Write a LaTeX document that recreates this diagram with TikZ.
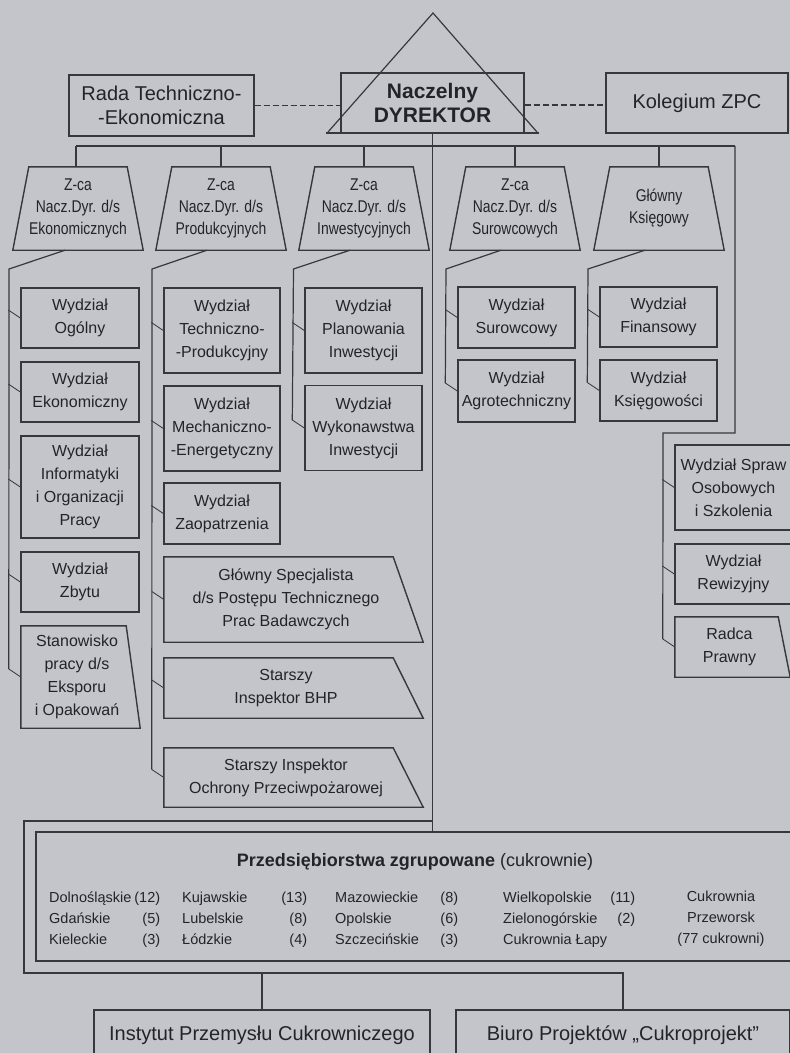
\documentclass[tikz,border=0pt]{standalone}
\usepackage{fontspec}
\setmainfont{Liberation Sans}
\newfontfamily\narrowsans[FakeStretch=0.82]{Liberation Sans}
\usepackage{tikz}
\usetikzlibrary{positioning,calc}
\definecolor{paper}{RGB}{195,197,202}
\definecolor{ink}{RGB}{36,36,40}
\definecolor{wire}{RGB}{56,56,60}
\tikzset{
  box/.style={draw=wire, line width=1.4pt, align=center, inner sep=0pt, text=ink,
    font=\fontsize{16}{23}\selectfont, minimum width=117pt},
  topbox/.style={box, font=\fontsize{20}{24}\selectfont},
  zca/.style={align=center, inner sep=0pt, text=ink, font=\narrowsans\fontsize{17}{22}\selectfont,
    minimum width=98pt, minimum height=83pt},
  slant/.style={align=center, inner sep=0pt, text=ink, font=\fontsize{16}{23}\selectfont},
  outline/.style={draw=wire, line width=1.4pt},
  link/.style={draw=wire, line width=1.2pt},
  tick/.style={draw=wire, line width=0.8pt},
  dashlink/.style={link, dash pattern=on 6pt off 3pt},
  list/.style={inner sep=0pt, text=ink, font=\fontsize{14.5}{21}\selectfont},
}

\begin{document}
\begin{tikzpicture}[x=1pt,y=-1pt]
  \fill[paper] (0,0) rectangle (790,1053);
  \useasboundingbox (0,0) rectangle (790,1053);
  % kierownictwo
  \node[topbox, minimum width=185pt, minimum height=61pt] (rada) at (161.5,105.5) {Rada Techniczno-\\-Ekonomiczna};
  \node[topbox, minimum width=183pt, minimum height=60pt, font=\fontsize{21}{24}\selectfont\bfseries] (dyr) at (432.5,103) {Naczelny\\DYREKTOR};
  \node[topbox, minimum width=182pt, minimum height=60pt] (kol) at (697,103) {Kolegium ZPC};
  \coordinate (apex) at (433,13);
  \draw[link] (328,132) -- (apex) -- (537,132);
  \draw[outline] (326,133) -- (539,133);
  \draw[dashlink] (rada.east) -- (rada.east -| dyr.west);
  \draw[dashlink] ([yshift=-2pt]dyr.east) -- ([yshift=-2pt]dyr.east -| kol.west);
  % zastepcy
  \node[zca] (zeko) at (78,208.5) {Z-ca\\Nacz.Dyr. d/s\\Ekonomicznych};
  \node[zca] (zprod) at (221,208.5) {Z-ca\\Nacz.Dyr. d/s\\Produkcyjnych};
  \node[zca] (zinw) at (364,208.5) {Z-ca\\Nacz.Dyr. d/s\\Inwestycyjnych};
  \node[zca] (zsur) at (515,208.5) {Z-ca\\Nacz.Dyr. d/s\\Surowcowych};
  \node[zca] (ksg) at (659,208.5) {Główny\\Księgowy};
  \foreach \z in {zeko,zprod,zinw,zsur,ksg}
    \draw[outline] (\z.north west) -- (\z.north east) -- ([xshift=16pt]\z.south east)
      -- ([xshift=-16pt]\z.south west) -- cycle;
  % wydzialy
  \node[box, minimum width=118pt, minimum height=60pt] (ogol) at (80,318) {Wydział\\Ogólny};
  \node[box, minimum width=118pt, minimum height=60pt] (ekon) at (80,392) {Wydział\\Ekonomiczny};
  \node[box, minimum width=118pt, minimum height=102pt] (info) at (80,487) {Wydział\\Informatyki\\i Organizacji\\Pracy};
  \node[box, minimum width=118pt, minimum height=60pt] (zbyt) at (80,582) {Wydział\\Zbytu};
  \node[slant, minimum width=112pt, minimum height=102pt] (stan) at (77,677) {Stanowisko\\pracy d/s\\Eksporu\\i Opakowań};
  \node[box, minimum width=116pt, minimum height=85pt] (tech) at (222,330.5) {Wydział\\Techniczno-\\-Produkcyjny};
  \node[box, minimum width=116pt, minimum height=85pt] (mech) at (222,428.5) {Wydział\\Mechaniczno-\\-Energetyczny};
  \node[box, minimum width=116pt, minimum height=61pt] (zaop) at (222,513.5) {Wydział\\Zaopatrzenia};
  \node[slant, minimum width=244pt, minimum height=85pt] (spec) at (286,599.5) {Główny Specjalista\\d/s Postępu Technicznego\\Prac Badawczych};
  \node[slant, minimum width=244pt, minimum height=60pt] (bhp) at (286,688) {Starszy\\Inspektor BHP};
  \node[slant, minimum width=244pt, minimum height=59pt] (ochr) at (286,777.5) {Starszy Inspektor\\Ochrony Przeciwpożarowej};
  \node[box, minimum height=85pt] (plan) at (363.5,330.5) {Wydział\\Planowania\\Inwestycji};
  \node[box, minimum height=85pt] (wyko) at (363.5,428) {Wydział\\Wykonawstwa\\Inwestycji};
  \node[box, minimum height=61pt] (surow) at (516.5,317.5) {Wydział\\Surowcowy};
  \node[box, minimum height=62pt] (agro) at (516.5,391) {Wydział\\Agrotechniczny};
  \node[box, minimum height=60pt] (fin) at (658.5,317) {Wydział\\Finansowy};
  \node[box, minimum height=61pt] (ksieg) at (658.5,390.5) {Wydział\\Księgowości};
  \node[box, minimum height=85pt] (spraw) at (733.5,487.5) {Wydział Spraw\\Osobowych\\i Szkolenia};
  \node[box, minimum height=60pt] (rewiz) at (733.5,574) {Wydział\\Rewizyjny};
  \node[slant, minimum width=109pt, minimum height=60pt] (radca) at (729.5,647) {Radca\\Prawny};
  \foreach \b/\d in {stan/7,spec/15,bhp/15,ochr/15,radca/6}
    \draw[outline] (\b.north west) -- ([xshift=-\d pt]\b.north east)
      -- ([xshift=\d pt]\b.south east) -- (\b.south west) -- cycle;
  % przedsiebiorstwa
  \node[box, minimum width=759pt, minimum height=129pt] (przed) at (415.5,896.5) {};
  \node[inner sep=0pt, text=ink, font=\fontsize{18}{22}\selectfont] (ptyt) at (415,862) {\textbf{Przedsiębiorstwa zgrupowane} (cukrownie)};
  \node[list, anchor=west] (dol) at (49,919) {\begin{tabular*}{111pt}{@{}l@{\extracolsep{\fill}}r@{}}Dolnośląskie&(12)\\Gdańskie&(5)\\Kieleckie&(3)\end{tabular*}};
  \node[list, anchor=west] (kuj) at (182,919) {\begin{tabular*}{125pt}{@{}l@{\extracolsep{\fill}}r@{}}Kujawskie&(13)\\Lubelskie&(8)\\Łódzkie&(4)\end{tabular*}};
  \node[list, anchor=west] (maz) at (335,919) {\begin{tabular*}{123pt}{@{}l@{\extracolsep{\fill}}r@{}}Mazowieckie&(8)\\Opolskie&(6)\\Szczecińskie&(3)\end{tabular*}};
  \node[list, anchor=west] (wlkp) at (503,919) {\begin{tabular*}{132pt}{@{}l@{\extracolsep{\fill}}r@{}}Wielkopolskie&(11)\\Zielonogórskie&(2)\\\multicolumn{2}{@{}l@{}}{Cukrownia Łapy}\end{tabular*}};
  \node[list, align=center] (cuk) at (721,919) {Cukrownia\\Przeworsk\\(77 cukrowni)};
  \node[box, font=\fontsize{20}{24}\selectfont, minimum width=336pt, minimum height=50pt] (inst) at (262,1035) {Instytut Przemysłu Cukrowniczego};
  \node[box, font=\fontsize{20}{24}\selectfont, minimum width=334pt, minimum height=50pt] (biuro) at (623,1035) {Biuro Projektów „Cukroprojekt”};
  % polaczenia
  \coordinate (busw) at (76,146);
  \coordinate (buse) at (735,146);
  \draw[link] (busw) -- (buse);
  \draw[link] (dyr.south) -- (dyr.south |- przed.north);
  \draw[link] (busw) -- (busw |- zeko.north);
  \foreach \z in {zprod,zinw,zsur,ksg}
    \draw[link] (\z.north) -- (\z.north |- busw);
  \coordinate (k1) at (9,269);
  \coordinate (k2) at (152,269);
  \coordinate (k3) at (293.5,269);
  \coordinate (k4) at (446,269);
  \coordinate (k5) at (588,269);
  \coordinate (r1) at (735,433);
  \coordinate (k6) at (663,433);
  \draw[link] ([xshift=-13pt]zeko.south) -- (k1) -- ($(stan.west)+(-12,-8)$);
  \draw[link] ([xshift=-14pt]zprod.south) -- (k2) -- ($(ochr.west)+(-12,-8)$);
  \draw[link] ([xshift=-14pt]zinw.south) -- (k3) -- ($(wyko.west)+(-12,-8)$);
  \draw[link] ([xshift=-14pt]zsur.south) -- (k4) -- ($(agro.west)+(-12,-8)$);
  \draw[link] ([xshift=-14pt]ksg.south) -- (k5) -- ($(ksieg.west)+(-12,-8)$);
  \draw[link] (buse) -- (r1) -- (k6) -- ($(radca.west)+(-12,-8)$);
  \foreach \b in {ogol,ekon,info,zbyt,stan,tech,mech,zaop,spec,bhp,ochr,plan,wyko,surow,agro,fin,ksieg,spraw,rewiz,radca}
    \draw[tick] (\b.west) -- ++(-12,-8);
  \coordinate (loopa) at (24,821);
  \coordinate (loopb) at (24,973);
  \draw[link] (dyr.south |- loopa) -- (loopa) -- (loopb) -- (loopb -| biuro.north) -- (biuro.north);
  \draw[link] (inst.north) -- (inst.north |- loopb);
\end{tikzpicture}
\end{document}
